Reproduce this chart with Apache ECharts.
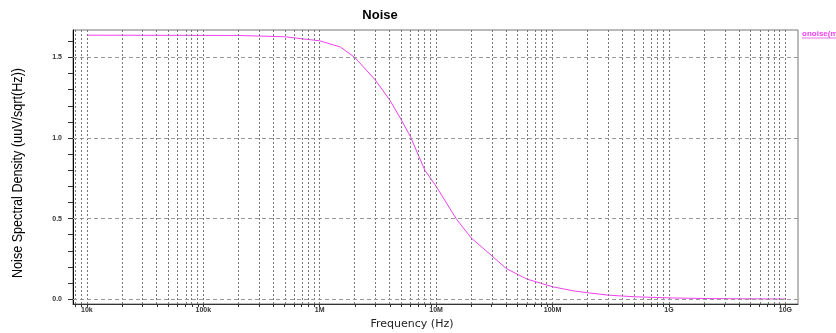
<!DOCTYPE html>
<html>
<head>
<meta charset="utf-8">
<script src="https://cdn.jsdelivr.net/npm/echarts@6/dist/echarts.min.js"></script>
<style>
html, body { margin: 0; padding: 0; background: #fff; }
#noiseChart { width: 836px; height: 333px; }
</style>
</head>
<body>
<div id="noiseChart"></div>
<script>
// frequency (Hz) and onoise readings (uV/sqrt(Hz))
var freqs = [1e4, 2e5, 5e5, 1e6, 1.5e6, 2e6, 3e6, 4e6, 5e6, 6e6, 8e6, 1e7, 1.5e7, 2e7, 3e7, 4e7, 6e7,
	1e8, 1.5e8, 2e8, 3e8, 5e8, 8e8, 1e9, 2e9, 5e9, 1e10];
var noiseVals = [1.638, 1.636, 1.628, 1.603, 1.565, 1.50, 1.36, 1.235, 1.115, 1.01, 0.80, 0.70, 0.495,
	0.38, 0.27, 0.19, 0.125, 0.077, 0.052, 0.04, 0.025, 0.015, 0.01, 0.008, 0.004, 0.002, 0.001];
var decadeLabels = ['10k', '100k', '1M', '10M', '100M', '1G', '10G'];
var decadeExp = [4, 5, 6, 7, 8, 9, 10];
var yLabels = [0, 0.5, 1.0, 1.5];

var xMin = 3.881, xMax = 10.108;
var noiseChart = echarts.init(document.getElementById('noiseChart'));

var lineData = [];
for (var i = 0; i < freqs.length; i++) {
	lineData.push([Math.log10(freqs[i]), noiseVals[i]]);
}

// log grid positions 1..9 x 10^n
var xTicks = [];
for (var n = 3; n <= 10; n++) {
	for (var k = 1; k <= 9; k++) {
		var lv = Math.log10(k * Math.pow(10, n));
		if (lv >= xMin && lv <= xMax) xTicks.push(lv);
	}
}
var yTicks = [];
for (var j = 0; j <= 16; j++) yTicks.push(j / 10);

var vLines = xTicks.map(function (v) { return { xAxis: v }; });
var hLines = yLabels.map(function (v) { return { yAxis: v }; });

noiseChart.setOption({
	animation: false,
	backgroundColor: '#fff',
	grid: { left: 73, right: 38, top: 30, bottom: 29, show: true, borderColor: '#777', borderWidth: 1 },
	xAxis: {
		type: 'value',
		min: xMin,
		max: xMax,
		axisLine: { onZero: false, lineStyle: { color: '#333', width: 1 } },
		axisTick: { customValues: xTicks, length: 3, lineStyle: { color: '#333' } },
		axisLabel: {
			customValues: decadeExp,
			margin: 3,
			fontSize: 7,
			fontWeight: 'bold',
			color: '#333',
			fontFamily: 'Liberation Sans',
			formatter: function (v) {
				var idx = decadeExp.indexOf(Math.round(v));
				return idx >= 0 ? decadeLabels[idx] : '';
			}
		},
		splitLine: { show: false }
	},
	yAxis: {
		type: 'value',
		min: -0.03,
		max: 1.67,
		axisLine: { show: true, lineStyle: { color: '#000', width: 1 } },
		axisTick: { customValues: yTicks, length: 5, lineStyle: { color: '#333' } },
		axisLabel: {
			customValues: yLabels,
			margin: 11,
			fontSize: 7,
			fontWeight: 'bold',
			color: '#333',
			fontFamily: 'Liberation Sans',
			formatter: function (v) { return v.toFixed(1); }
		},
		splitLine: { show: false }
	},
	graphic: [
		{ type: 'text', x: 380, y: 15, style: { text: 'Noise', fontSize: 13, fontWeight: 'bold', fontFamily: 'Liberation Sans', fill: '#000', textAlign: 'center', textVerticalAlign: 'middle' } },
		{ type: 'text', x: 412, y: 324, style: { text: 'Frequency (Hz)', fontSize: 11, fontFamily: 'DejaVu Sans', fill: '#222', textAlign: 'center', textVerticalAlign: 'middle' } },
		{ type: 'text', x: 18, y: 173, rotation: Math.PI / 2, scaleX: 0.84, style: { text: 'Noise Spectral Density (uuV/sqrt(Hz))', fontSize: 15, fontFamily: 'Liberation Sans, Arial, sans-serif', fill: '#000', textAlign: 'center', textVerticalAlign: 'middle' } },
		{ type: 'text', x: 802, y: 34, style: { text: 'onoise(m', fontSize: 8, fontWeight: 'bold', fontFamily: 'Liberation Sans', fill: '#f040f0', textAlign: 'left', textVerticalAlign: 'middle' } },
		{ type: 'line', shape: { x1: 802, y1: 38, x2: 836, y2: 38 }, style: { stroke: '#f070f0', lineWidth: 1 } }
	],
	series: [
		{
			name: 'grid',
			type: 'line',
			data: [],
			silent: true,
			markLine: {
				silent: true,
				symbol: 'none',
				animation: false,
				label: { show: false },
				lineStyle: { color: '#777', type: [2, 2], width: 1 },
				data: vLines
			}
		},
		{
			name: 'grid2',
			type: 'line',
			data: [],
			silent: true,
			markLine: {
				silent: true,
				symbol: 'none',
				animation: false,
				label: { show: false },
				lineStyle: { color: '#999', type: [4, 3], width: 1 },
				data: hLines
			}
		},
		{
			name: 'onoise',
			type: 'line',
			data: lineData,
			showSymbol: false,
			smooth: false,
			lineStyle: { color: '#f040f0', width: 1 },
			itemStyle: { color: '#f040f0' }
		}
	]
});
</script>
</body>
</html>
